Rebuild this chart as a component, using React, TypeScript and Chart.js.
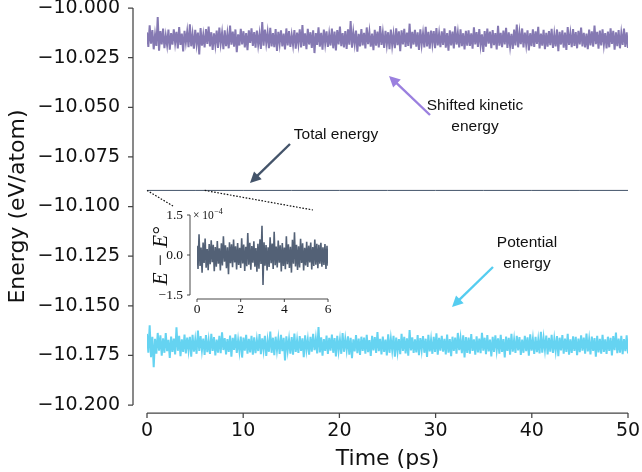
import React, { useEffect, useRef } from 'react';
import { Chart, registerables } from 'chart.js';
Chart.register(...registerables);

// ---------- data ----------
const T_END = 50; // ps
const KIN_MEAN = -10.0155; // shifted kinetic energy, eV/atom
const POT_MEAN = -10.1697; // potential energy, eV/atom
const TOTAL_E = -10.0919; // total energy, eV/atom

// fluctuations of the shifted kinetic energy (units of 1e-3 eV/atom)
const KIN_DEV = [
  3.2, -4.1, 6.8, -2.5, 4.4, -5.3, 2.1, -3.6, 10.9, -6.0, 3.9, -2.8, 5.1, -4.7, 1.6, -3.3, 4.6, -5.5, 2.9, -3.0,
  4.8, -2.2, 3.5, -4.9, 5.9, -3.1, 2.6, -6.4, 4.0, -1.9, 3.7, -4.2, 7.3, -3.8, 2.3, -5.0, 4.5, -2.7, 3.1, -7.9,
  5.4, -3.5, 2.0, -4.4, 4.9, -2.6, 6.2, -3.9, 3.3, -5.6, 2.7, -3.2, 4.1, -4.6, 5.6, -2.4, 3.0, -5.2, 4.3, -3.7,
  2.5, -4.8, 6.6, -3.0, 3.6, -4.0, 4.7, -6.8, 2.2, -3.4, 5.0, -2.9, 3.8, -4.3, 2.9, -5.7, 4.2, -2.1, 5.3, -3.6,
  3.4, -4.5, 4.1, -3.1, 2.4, -5.1, 8.4, -3.5, 4.6, -2.3, 3.2, -4.7, 5.5, -3.8, 2.8, -4.2, 4.9, -6.1, 3.5, -2.6,
  4.3, -3.9, 2.6, -5.4, 5.2, -3.3, 3.9, -4.1, 2.0, -3.2, 4.4, -5.0, 3.1, -2.7, 4.8, -4.4, 6.9, -3.6, 2.7, -5.3,
  5.0, -2.9, 3.3, -4.6, 4.2, -7.2, 2.9, -3.1, 5.8, -4.0, 3.0, -5.5, 4.6, -2.5, 3.7, -4.1, 2.4, -3.4, 5.1, -4.8,
  3.6, -5.9, 4.4, -2.8, 6.1, -3.7, 2.8, -4.3, 3.9, -5.1, 4.7, -3.0, 8.9, -4.5, 3.2, -2.6, 4.1, -6.5, 2.5, -3.9,
  4.9, -3.3, 3.0, -4.9, 5.7, -2.7, 3.4, -4.0, 2.6, -5.8, 4.5, -3.5, 3.6, -4.4, 6.4, -3.1, 2.9, -4.6, 4.0, -3.0,
  3.3, -5.2, 4.6, -3.4, 2.3, -4.7, 5.3, -3.2, 3.8, -6.3, 4.2, -2.8, 5.0, -4.1, 3.1, -3.6, 7.6, -4.9, 3.5, -2.9,
  4.5, -4.0, 3.2, -5.6, 4.8, -3.0, 2.7, -4.4, 6.0, -3.8, 3.5, -5.0, 4.1, -2.6, 3.9, -4.8, 5.4, -3.3, 2.6, -4.2,
  3.8, -3.1, 5.2, -4.5, 2.9, -6.0, 4.3, -3.4, 3.6, -4.9, 6.3, -2.9, 3.0, -4.3, 4.7, -3.7, 2.8, -5.4, 4.0, -3.5,
  4.2, -3.6, 2.7, -5.0, 5.8, -2.8, 3.4, -4.1, 4.9, -3.3, 2.2, -6.6, 3.9, -4.0, 5.1, -2.5, 3.6, -4.7, 4.4, -3.2,
  2.9, -5.4, 6.5, -3.5, 3.0, -4.2, 4.1, -2.9, 5.5, -4.6, 3.2, -3.8, 2.5, -5.1, 4.6, -3.4, 7.1, -4.3, 3.3, -2.7,
  5.2, -4.4, 3.1, -3.0, 4.3, -5.9, 2.8, -3.7, 4.8, -4.1, 3.7, -2.6, 6.0, -4.9, 2.6, -3.5, 4.5, -5.3, 3.0, -4.0,
  3.9, -3.2, 5.0, -4.6, 2.4, -3.9, 4.7, -6.2, 3.5, -2.9, 4.2, -4.5, 3.1, -5.6, 5.9, -3.1, 2.7, -4.2, 4.9, -3.6,
  3.4, -4.8, 4.0, -2.8, 5.6, -3.9, 3.0, -4.4, 2.6, -5.2, 4.6, -3.3, 3.8, -4.0, 6.7, -2.7, 3.5, -5.0, 4.1, -3.4,
  4.7, -3.0, 2.9, -4.9, 3.6, -4.3, 5.3, -2.6, 4.0, -5.5, 3.2, -3.7, 4.4, -4.8, 2.8, -3.1, 5.1, -4.1, 3.3, -4.6,
];

// fluctuations of the potential energy (units of 1e-3 eV/atom)
const POT_DEV = [
  5.5, -3.9, 9.8, -6.2, 4.1, -11.2, 3.0, -4.4, 6.0, -2.9, 4.8, -5.5, 3.3, -4.0, 5.9, -3.2, 2.5, -6.6, 4.2, -3.6,
  3.1, -4.8, 8.9, -3.0, 4.5, -5.7, 2.8, -3.5, 5.2, -4.3, 3.6, -2.7, 4.0, -6.0, 5.0, -3.4, 2.6, -4.5, 7.2, -3.1,
  4.4, -2.8, 3.2, -5.1, 4.9, -3.7, 2.3, -4.6, 5.6, -3.0, 3.9, -5.3, 2.7, -3.9, 4.6, -4.2, 6.3, -2.6, 3.4, -4.8,
  2.9, -3.6, 4.7, -5.9, 3.5, -2.5, 5.3, -4.1, 2.4, -3.3, 4.2, -6.4, 3.7, -2.9, 5.0, -4.4, 3.0, -3.8, 4.5, -5.0,
  3.8, -4.2, 2.6, -3.1, 5.4, -4.7, 3.3, -2.7, 4.6, -5.6, 2.2, -3.5, 6.7, -4.0, 3.6, -5.2, 4.1, -2.8, 3.1, -4.6,
  5.1, -3.2, 3.5, -7.8, 4.3, -2.9, 2.8, -4.4, 3.9, -5.0, 5.7, -3.6, 2.5, -4.1, 4.4, -3.0, 3.3, -6.2, 4.8, -2.6,
  2.7, -4.9, 4.0, -3.4, 5.5, -2.7, 3.2, -4.3, 9.0, -3.8, 3.8, -5.4, 2.9, -3.1, 4.7, -4.6, 3.5, -2.9, 5.2, -4.0,
  3.4, -5.8, 4.6, -3.0, 2.6, -4.5, 5.9, -3.5, 3.0, -2.6, 4.3, -4.9, 3.6, -6.7, 2.8, -3.3, 4.9, -4.2, 3.2, -5.1,
  4.1, -3.0, 3.6, -4.4, 5.0, -3.7, 2.4, -5.6, 4.5, -2.8, 3.9, -4.1, 6.4, -3.2, 3.0, -4.8, 4.2, -3.5, 2.7, -5.3,
  5.3, -4.0, 3.1, -2.9, 4.6, -6.0, 3.7, -3.4, 2.9, -4.7, 5.6, -3.1, 4.0, -4.3, 3.3, -5.5, 7.5, -2.8, 3.8, -4.1,
  2.8, -3.8, 4.9, -5.2, 3.4, -2.6, 4.4, -4.0, 3.1, -6.1, 5.1, -3.3, 2.6, -4.5, 4.0, -3.6, 5.8, -4.9, 3.5, -2.9,
  4.6, -3.4, 3.0, -4.8, 5.2, -3.9, 2.9, -5.7, 4.1, -3.1, 3.7, -4.4, 6.0, -2.7, 3.3, -4.2, 4.8, -6.4, 3.9, -4.0,
  3.7, -4.5, 5.4, -3.1, 2.8, -5.0, 4.3, -3.8, 3.1, -4.2, 6.1, -2.9, 3.6, -4.7, 4.9, -3.3, 2.6, -5.8, 4.0, -3.5,
  4.8, -2.7, 3.3, -4.4, 5.0, -3.6, 2.9, -6.3, 4.2, -3.0, 3.5, -4.9, 5.6, -3.4, 2.7, -4.1, 4.6, -2.8, 3.9, -5.1,
  2.6, -4.0, 4.5, -3.2, 3.8, -5.5, 5.3, -2.9, 3.0, -4.6, 4.1, -3.7, 2.5, -4.3, 6.6, -3.9, 3.4, -2.6, 4.7, -4.8,
  3.5, -3.4, 5.1, -4.1, 2.9, -3.0, 4.4, -5.7, 3.6, -2.8, 4.9, -4.4, 3.2, -3.6, 5.5, -4.9, 2.8, -4.0, 4.3, -3.1,
  4.0, -5.2, 3.1, -3.7, 4.8, -2.9, 3.7, -4.5, 5.7, -3.3, 2.7, -4.8, 4.2, -3.0, 3.4, -6.0, 4.6, -3.8, 3.0, -4.4,
  5.0, -3.5, 2.8, -4.6, 4.1, -3.1, 3.5, -5.3, 4.4, -2.7, 6.2, -4.2, 3.1, -3.9, 4.5, -4.7, 2.9, -3.2, 4.8, -4.3,
];

// total energy samples (flat on this scale)
const TOTAL_T = [0, 5, 10, 15, 20, 25, 30, 35, 40, 45, 50];
const TOTAL_V = [-10.0919, -10.0919, -10.0919, -10.0919, -10.0919, -10.0919, -10.0919, -10.0919, -10.0919, -10.0919, -10.0919];

// inset: E - E° over the first 6 ps (units of 1e-4 eV/atom)
const INSET_T_END = 6;
const INSET_DEV = [
  0.35, -0.52, 0.78, -0.41, 0.28, -0.66, 0.47, -0.30, 0.62, -0.48, 0.22, -0.57, 0.41, -0.35, 0.55, -0.27, 0.38, -0.61, 0.30, -0.44,
  0.52, -0.33, 0.25, -0.58, 0.44, -0.39, 0.70, -0.25, 0.36, -0.50, 0.29, -0.72, 0.48, -0.31, 0.40, -0.46, 0.58, -0.28, 0.33, -0.54,
  0.45, -0.37, 0.27, -0.49, 0.63, -0.32, 0.39, -0.60, 0.31, -0.42, 0.82, -0.36, 0.46, -0.55, 0.34, -0.29, 0.51, -0.44, 0.26, -0.63,
  0.42, -0.51, 0.59, -0.34, 1.10, -1.12, 0.48, -0.40, 0.37, -0.58, 0.29, -0.45, 0.66, -0.31, 0.43, -0.52, 0.87, -0.38, 0.32, -0.47,
  0.54, -0.29, 0.36, -0.62, 0.45, -0.41, 0.28, -0.53, 0.70, -0.35, 0.40, -0.49, 0.31, -0.66, 0.57, -0.33, 0.85, -0.43, 0.38, -0.56,
  0.33, -0.47, 0.61, -0.30, 0.44, -0.58, 0.27, -0.39, 0.50, -0.45, 0.35, -0.28, 0.47, -0.54, 0.30, -0.41, 0.58, -0.36, 0.42, -0.50,
  0.38, -0.33, 0.46, -0.44, 0.29, -0.37, 0.41, -0.52, 0.35, -0.40,
];

const X_TICKS = [0, 10, 20, 30, 40, 50];
const Y_TICKS = [-10.2, -10.175, -10.15, -10.125, -10.1, -10.075, -10.05, -10.025, -10.0];
const INSET_X_TICKS = [0, 2, 4, 6];
const INSET_Y_TICKS = [-1.5, 0, 1.5];

// ---------- helpers ----------
const minus = (s: string) => s.replace('-', '\u2212');
const series = (dev: number[], mean: number, unit: number, tEnd: number) =>
  dev.map((d, i) => ({ x: (i * tEnd) / (dev.length - 1), y: mean + d * unit }));

function arrow(ctx: CanvasRenderingContext2D, x0: number, y0: number, x1: number, y1: number, color: string) {
  const a = Math.atan2(y1 - y0, x1 - x0);
  const hl = 11, hw = 5.5;
  const bx = x1 - hl * Math.cos(a), by = y1 - hl * Math.sin(a);
  ctx.save();
  ctx.strokeStyle = color;
  ctx.fillStyle = color;
  ctx.lineWidth = 2.4;
  ctx.beginPath();
  ctx.moveTo(x0, y0);
  ctx.lineTo(bx + 2 * Math.cos(a), by + 2 * Math.sin(a));
  ctx.stroke();
  ctx.beginPath();
  ctx.moveTo(x1, y1);
  ctx.lineTo(bx + hw * Math.sin(a), by - hw * Math.cos(a));
  ctx.lineTo(bx - hw * Math.sin(a), by + hw * Math.cos(a));
  ctx.closePath();
  ctx.fill();
  ctx.restore();
}

const SPINE = '#444';
const TICK_FONT = { family: 'DejaVu Sans', size: 19 };

const mainDecor = {
  id: 'mainDecor',
  afterDraw(chart: any) {
    const { ctx } = chart;
    const xs = chart.scales.x, ys = chart.scales.y;
    const X = (v: number) => xs.getPixelForValue(v);
    const Y = (v: number) => ys.getPixelForValue(v);
    ctx.save();
    // offset spines
    ctx.strokeStyle = SPINE;
    ctx.lineWidth = 1.25;
    const sx = xs.left - 14;
    ctx.beginPath();
    ctx.moveTo(sx, Y(-10.0));
    ctx.lineTo(sx, Y(-10.2));
    Y_TICKS.forEach((v) => { ctx.moveTo(sx, Y(v)); ctx.lineTo(sx - 5, Y(v)); });
    const sy = ys.bottom + 8;
    ctx.moveTo(X(0), sy);
    ctx.lineTo(X(50), sy);
    X_TICKS.forEach((v) => { ctx.moveTo(X(v), sy); ctx.lineTo(X(v), sy + 5); });
    ctx.stroke();

    // axis titles
    ctx.fillStyle = '#111';
    ctx.font = '22px "DejaVu Sans"';
    ctx.textAlign = 'center';
    ctx.textBaseline = 'alphabetic';
    ctx.fillText('Time (ps)', (xs.left + xs.right) / 2, 465);
    ctx.save();
    ctx.translate(24, (ys.top + ys.bottom) / 2);
    ctx.rotate(-Math.PI / 2);
    ctx.fillText('Energy (eV/atom)', 0, 0);
    ctx.restore();

    // zoom connectors
    ctx.save();
    ctx.strokeStyle = '#111';
    ctx.lineWidth = 1.2;
    ctx.setLineDash([1.6, 1.6]);
    ctx.beginPath();
    ctx.moveTo(X(0), Y(TOTAL_E));
    ctx.lineTo(173, 206);
    ctx.moveTo(X(INSET_T_END), Y(TOTAL_E));
    ctx.lineTo(313, 210);
    ctx.stroke();
    ctx.restore();

    // annotations
    ctx.font = '15.5px "Liberation Sans", Arial, sans-serif';
    ctx.fillStyle = '#111';
    ctx.textAlign = 'center';
    ctx.fillText('Total energy', 336, 139);
    ctx.fillText('Shifted kinetic', 475, 110);
    ctx.fillText('energy', 475, 131);
    ctx.fillText('Potential', 527, 247);
    ctx.fillText('energy', 527, 268);
    arrow(ctx, 430, 115, 389, 76, '#9b80df');
    arrow(ctx, 290, 144, 250, 183, '#44546a');
    arrow(ctx, 493, 267, 452, 307, '#55cdf0');
    ctx.restore();
  },
};

const insetDecor = {
  id: 'insetDecor',
  afterDraw(chart: any) {
    const { ctx } = chart;
    const xs = chart.scales.x, ys = chart.scales.y;
    const X = (v: number) => xs.getPixelForValue(v);
    const Y = (v: number) => ys.getPixelForValue(v);
    ctx.save();
    ctx.strokeStyle = '#333';
    ctx.lineWidth = 0.9;
    const sx = xs.left - 7;
    ctx.beginPath();
    ctx.moveTo(sx, Y(1.5));
    ctx.lineTo(sx, Y(-1.5));
    INSET_Y_TICKS.forEach((v) => { ctx.moveTo(sx, Y(v)); ctx.lineTo(sx - 3, Y(v)); });
    const sy = ys.bottom + 4;
    ctx.moveTo(X(0), sy);
    ctx.lineTo(X(6), sy);
    INSET_X_TICKS.forEach((v) => { ctx.moveTo(X(v), sy); ctx.lineTo(X(v), sy + 3); });
    ctx.stroke();

    ctx.fillStyle = '#111';
    ctx.textBaseline = 'alphabetic';
    ctx.textAlign = 'left';
    ctx.font = '11.5px "Liberation Serif", serif';
    ctx.fillText('\u00d7 10', sx + 3, Y(1.5) + 4);
    const w = ctx.measureText('\u00d7 10').width;
    ctx.font = '8px "Liberation Serif", serif';
    ctx.fillText('\u22124', sx + 3 + w + 0.5, Y(1.5) - 1);

    ctx.save();
    ctx.translate(sx - 23, Y(0) + 1);
    ctx.rotate(-Math.PI / 2);
    ctx.textAlign = 'center';
    ctx.font = 'italic 21px "Liberation Serif", serif';
    ctx.fillText('E \u2212 E\u00b0', 0, 0);
    ctx.restore();
    ctx.restore();
  },
};

export default function App() {
  const mainRef = useRef<HTMLCanvasElement>(null);
  const insetRef = useRef<HTMLCanvasElement>(null);

  useEffect(() => {
    const main = new Chart(mainRef.current!, {
      type: 'line',
      data: {
        datasets: [
          {
            data: series(KIN_DEV, KIN_MEAN, 1e-3, T_END),
            borderColor: 'rgba(120,106,170,0.9)',
            borderWidth: 2,
            pointRadius: 0,
          },
          {
            data: TOTAL_T.map((t, i) => ({ x: t, y: TOTAL_V[i] })),
            borderColor: '#44546a',
            borderWidth: 1,
            pointRadius: 0,
          },
          {
            data: series(POT_DEV, POT_MEAN, 1e-3, T_END),
            borderColor: 'rgba(84,206,240,0.9)',
            borderWidth: 2,
            pointRadius: 0,
          },
        ],
      },
      options: {
        responsive: false,
        animation: false,
        events: [],
        layout: { padding: { left: 0, top: 8, right: 14, bottom: 0 } },
        plugins: { legend: { display: false }, tooltip: { enabled: false } },
        scales: {
          x: {
            type: 'linear',
            min: 0,
            max: T_END,
            afterBuildTicks: (s: any) => { s.ticks = X_TICKS.map((value) => ({ value })); },
            afterFit: (s: any) => { s.height = 67; s.paddingLeft = 0; s.paddingRight = 0; },
            grid: { display: true, drawOnChartArea: false, drawTicks: true, tickLength: 12, tickColor: 'rgba(0,0,0,0)' },
            border: { display: false },
            ticks: { padding: 3, font: TICK_FONT, color: '#111', maxRotation: 0, autoSkip: false, callback: (v: any) => String(v) },
          },
          y: {
            type: 'linear',
            min: -10.2,
            max: -10.0,
            afterBuildTicks: (s: any) => { s.ticks = Y_TICKS.map((value) => ({ value })); },
            afterFit: (s: any) => { s.width = 147; s.paddingTop = 0; s.paddingBottom = 0; },
            grid: { display: true, drawOnChartArea: false, drawTicks: true, tickLength: 19, tickColor: 'rgba(0,0,0,0)' },
            border: { display: false },
            ticks: { padding: 8, font: TICK_FONT, color: '#111', autoSkip: false, callback: (v: any) => minus(Number(v).toFixed(3)) },
          },
        },
      },
      plugins: [mainDecor],
    } as any);

    const inset = new Chart(insetRef.current!, {
      type: 'line',
      data: {
        datasets: [
          {
            data: series(INSET_DEV, 0, 1, INSET_T_END),
            borderColor: 'rgba(68,84,106,0.92)',
            borderWidth: 1.6,
            pointRadius: 0,
          },
        ],
      },
      options: {
        responsive: false,
        animation: false,
        events: [],
        layout: { padding: { left: 0, top: 20, right: 12, bottom: 0 } },
        plugins: { legend: { display: false }, tooltip: { enabled: false } },
        scales: {
          x: {
            type: 'linear',
            min: 0,
            max: INSET_T_END,
            afterBuildTicks: (s: any) => { s.ticks = INSET_X_TICKS.map((value) => ({ value })); },
            afterFit: (s: any) => { s.height = 25; s.paddingLeft = 0; s.paddingRight = 0; },
            grid: { display: true, drawOnChartArea: false, drawTicks: true, tickLength: 5, tickColor: 'rgba(0,0,0,0)' },
            border: { display: false },
            ticks: { padding: 1.5, font: { family: 'Liberation Serif', size: 13.5 }, color: '#111', maxRotation: 0, autoSkip: false, callback: (v: any) => String(v) },
          },
          y: {
            type: 'linear',
            min: -1.5,
            max: 1.5,
            afterBuildTicks: (s: any) => { s.ticks = INSET_Y_TICKS.map((value) => ({ value })); },
            afterFit: (s: any) => { s.width = 67; s.paddingTop = 0; s.paddingBottom = 0; },
            grid: { display: true, drawOnChartArea: false, drawTicks: true, tickLength: 10, tickColor: 'rgba(0,0,0,0)' },
            border: { display: false },
            ticks: { padding: 4, font: { family: 'Liberation Serif', size: 13.5 }, color: '#111', autoSkip: false, callback: (v: any) => minus(Number(v).toFixed(1)) },
          },
        },
      },
      plugins: [insetDecor],
    } as any);

    return () => {
      main.destroy();
      inset.destroy();
    };
  }, []);

  return (
    <div style={{ position: 'absolute', left: 0, top: 0, width: 642, height: 472, background: '#fff' }}>
      <canvas ref={mainRef} width={642} height={472} style={{ position: 'absolute', left: 0, top: 0 }} />
      <canvas ref={insetRef} width={210} height={125} style={{ position: 'absolute', left: 130, top: 195 }} />
    </div>
  );
}
